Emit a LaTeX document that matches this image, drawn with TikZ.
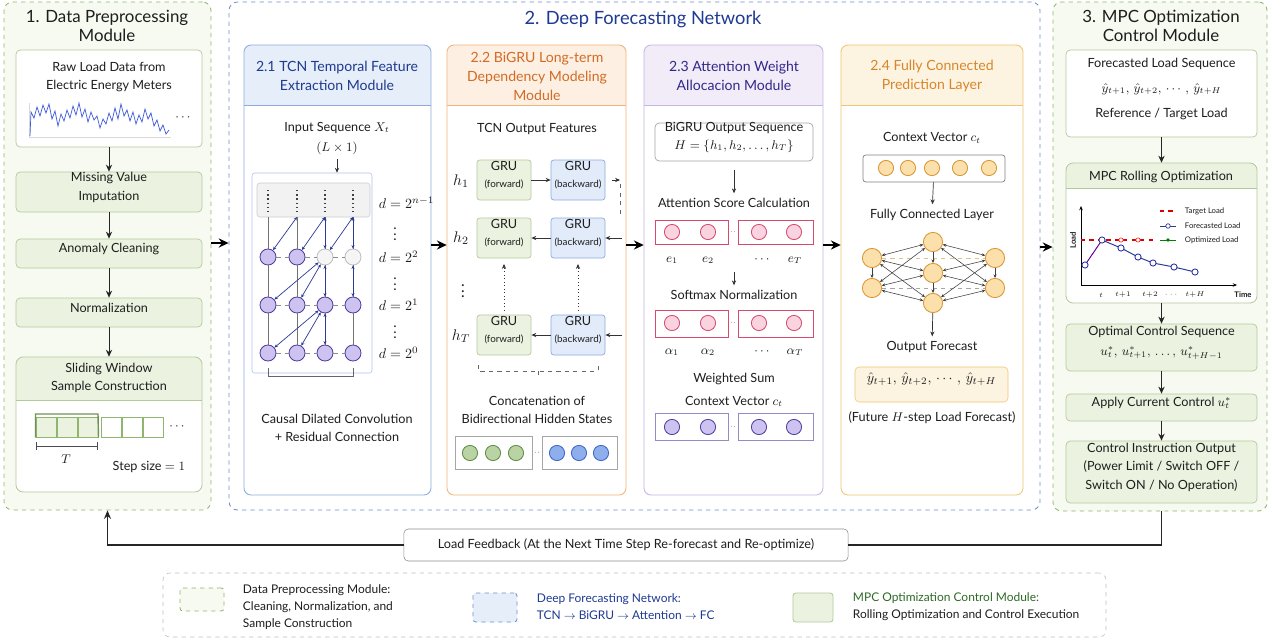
\documentclass[tikz,border=0pt]{standalone}
\usepackage{amsmath}
\usepackage{fontspec}
\setmainfont{Lato}
\usetikzlibrary{fit,arrows.meta}

\definecolor{txt}{HTML}{1E1E1E}
\definecolor{grnbg}{HTML}{F6FAF0}
\definecolor{grnfill}{HTML}{EBF3E0}
\definecolor{grnline}{HTML}{8FB56E}
\definecolor{grnbox}{HTML}{B3C99C}
\definecolor{winline}{HTML}{B3C99C}
\definecolor{winfill}{HTML}{EBF3E0}
\definecolor{dfnline}{HTML}{6F8FD0}
\definecolor{dfntext}{HTML}{1F3A93}
\definecolor{tcnline}{HTML}{8DAAE0}
\definecolor{tcnfill}{HTML}{E6EEF9}
\definecolor{tcntext}{HTML}{1F3A8F}
\definecolor{gruline}{HTML}{F2B47A}
\definecolor{grufill}{HTML}{FDEFE1}
\definecolor{grutext}{HTML}{D26B27}
\definecolor{attline}{HTML}{C6B5E2}
\definecolor{attfill}{HTML}{F1ECF8}
\definecolor{atttext}{HTML}{33288A}
\definecolor{fcline}{HTML}{F3C56F}
\definecolor{fcfill}{HTML}{FDF3E1}
\definecolor{fctext}{HTML}{D8862A}
\definecolor{navy}{HTML}{2C3A91}
\definecolor{sigblue}{HTML}{3D5BD9}
\definecolor{purpfill}{HTML}{CEC3F0}
\definecolor{purpline}{HTML}{4B3E9E}
\definecolor{pinkfill}{HTML}{F9D3DF}
\definecolor{pinkline}{HTML}{D9486F}
\definecolor{gdotfill}{HTML}{B9D3A3}
\definecolor{gdotline}{HTML}{5E8A48}
\definecolor{bdotfill}{HTML}{8EAFEB}
\definecolor{bdotline}{HTML}{3965C6}
\definecolor{odotfill}{HTML}{FBE0AC}
\definecolor{odotline}{HTML}{D99530}
\definecolor{bwdfill}{HTML}{E2EBFA}
\definecolor{mpctext}{HTML}{2D6A27}

\newcommand{\bodysize}{\fontsize{9}{13}\selectfont}
\newcommand{\headsize}{\fontsize{10}{13.5}\selectfont}
\newcommand{\titlesize}{\fontsize{12}{14}\selectfont}
\newcommand{\smallsize}{\fontsize{7}{8}\selectfont}
\newcommand{\tinysize}{\fontsize{5.5}{6.5}\selectfont}
\newcommand{\legsize}{\fontsize{8.5}{12}\selectfont}

% panel with a coloured header strip: name, x1, y1, x2, y2, header bottom, colour prefix
\newcommand{\headpanel}[7]{%
  \node[inner sep=0pt, fill=white, fit={(#2,#3)(#4,#5)}] (#1) {};
  \begin{scope}
    \clip[rounded corners=5pt] (#2,#3) rectangle (#4,#5);
    \fill[#7fill] (#2,#3) rectangle (#4,#6);
  \end{scope}
  \draw[#7line, line width=0.6pt] (#2,#6) -- (#4,#6);
  \draw[#7line, line width=0.6pt, rounded corners=5pt] (#2,#3) rectangle (#4,#5);
}

\begin{document}
\begin{tikzpicture}[
    x=0.025cm, y=-0.025cm,
    >={Stealth[length=5pt,width=4.5pt]},
    every node/.style={font=\bodysize, text=txt, align=center},
    module/.style={rounded corners=6pt, dashed, line width=0.6pt, inner sep=0pt},
    box/.style={draw=grnbox, fill=grnfill, rounded corners=3pt, inner sep=0pt, line width=0.5pt},
    whitebox/.style={box, fill=white},
    cell/.style={draw=#1, fill=white, inner sep=0pt, line width=0.5pt},
    dot/.style 2 args={circle, draw=#1, fill=#2, minimum size=0.38cm, inner sep=0pt, line width=0.6pt},
    tcndot/.style={dot={purpline}{purpfill}, minimum size=0.4cm},
    fadedot/.style={dot={black!25}{black!4}, minimum size=0.4cm},
    nndot/.style={dot={odotline}{odotfill}, minimum size=0.48cm},
    fwdbox/.style={box, rounded corners=2pt},
    bwdbox/.style={box, draw=tcnline, fill=bwdfill, rounded corners=2pt},
    flow/.style={->, line width=0.7pt, black!85},
    smallarrow/.style={-{Stealth[length=3.5pt,width=3pt]}, line width=0.5pt, black!80},
    bigarrow/.style={-{Stealth[length=7pt,width=6.5pt]}, line width=1.6pt, black},
    tcnarrow/.style={{Stealth[length=2.5pt,width=2.2pt]}-{Stealth[length=2.5pt,width=2.2pt]}, navy, line width=0.5pt},
    nnedge/.style={{Stealth[length=2.5pt,width=2.2pt]}-{Stealth[length=2.5pt,width=2.2pt]}, black!75, line width=0.4pt},
    nndown/.style={-{Stealth[length=2.5pt,width=2.2pt]}, black!75, line width=0.4pt},
    feedback/.style={line width=1pt, black!85}
]
\useasboundingbox (0,0) rectangle (1274,640);

% 1. Data preprocessing module
\node[module, draw=grnline, fill=grnbg, fit={(4,2)(211,510)}] (prep) {};
\node[font=\titlesize] (preptitle) at (107,26) {1. Data Preprocessing\\Module};

\node[whitebox, fit={(16,50)(202,147)}] (raw) {};
\node (rawtxt) at (109,77) {Raw Load Data from\\Electric Energy Meters};
\draw[black!15] (29,103) -- (29,137) -- (171,137);
\draw[sigblue, line width=0.5pt] plot coordinates {(30,136) (31,112) (34,118) (37,107) (40,116) (43,105)
  (46,113) (49,104) (52,119) (55,111) (58,126) (61,114) (64,121) (67,110) (70,118) (73,106) (76,115)
  (79,103) (82,117) (85,109) (88,122) (91,112) (94,120) (97,116) (100,128) (103,119) (106,124)
  (109,113) (112,121) (115,108) (118,119) (121,104) (124,116) (127,110) (130,121) (133,112) (136,124)
  (139,115) (142,122) (145,109) (148,119) (151,113) (154,126) (157,120) (160,131) (163,125) (166,134) (169,130)};
\node (rawdots) at (184,118) {$\cdots$};

\node[box, fit={(16,172)(202,212)}] (impute) {Missing Value\\Imputation};
\node[box, fit={(16,239)(202,268)}] (clean) {Anomaly Cleaning};
\node[box, fit={(16,298)(202,327)}] (norm) {Normalization};
\headpanel{window}{16}{357}{202}{492}{400}{win}
\node (wintitle) at (109,378) {Sliding Window\\Sample Construction};
\foreach \x [count=\i] in {36,57,78,101,122,143}
  \node[draw=grnline, fill=white, line width=0.7pt, minimum size=0.5cm, inner sep=0pt] (sq\i) at (\x+10,427) {};
\foreach \i in {1,2,3}
  \node[draw=grnline, fill=grnfill, line width=0.7pt, minimum size=0.5cm, inner sep=0pt] at (sq\i) {};
\draw[grnline!80!black, line width=1pt] (sq1.south west) |- (98,414) -- (sq3.south east);
\node (sqdots) at (178,427) {$\cdots$};
\draw[black!70, |-|, line width=0.5pt] (36,446) -- (98,446);
\node (tlbl) at (66,459) {$T$};
\node[anchor=east] (steplbl) at (190,467) {Step size $=1$};

\draw[flow] (raw) -- (impute);
\draw[flow] (impute) -- (clean);
\draw[flow] (clean) -- (norm);
\draw[flow] (norm) -- (window);

% 2. Deep forecasting network
\node[module, draw=dfnline, fill=white, fit={(229,2)(1040,510)}] (deepnet) {};
\node[font=\fontsize{13}{15}\selectfont, text=dfntext] (deeptitle) at (643,19) {2. Deep Forecasting Network};

% 2.1 TCN
\headpanel{tcn}{244}{45}{431}{495}{105}{tcn}
\node[font=\headsize, text=tcntext] (tcntitle) at (337,76) {2.1 TCN Temporal Feature\\Extraction Module};
\node (xin) at (337,128) {Input Sequence $X_t$};
\node (lx) at (337,148) {$(L\times 1)$};
\node[draw=tcnline!70, rounded corners=2pt, inner sep=0pt, fit={(252,173)(372,373)}] (grid) {};
\node[draw=black!20, fill=black!5, rounded corners=2pt, inner sep=0pt, fit={(257,183)(370,217)}] (deep) {};
\draw[smallarrow] (lx.south) -- (lx.south |- grid.north);
\foreach \c/\x in {1/268,2/297,3/325,4/353}{
  \coordinate (t\c) at (\x,217);
  \draw[dotted, line width=1pt, black!75] (\x,190) -- (\x,212);
  \foreach \r/\y in {0/353,1/305}
    \node[tcndot] (n\c\r) at (\x,\y) {};
}
\node[tcndot] (n12) at (268,257) {};
\node[tcndot] (n22) at (297,257) {};
\node[fadedot] (n32) at (325,257) {};
\node[fadedot] (n42) at (353,257) {};
\foreach \c in {1,...,4}
  \draw[black!55] (t\c) -- (n\c2) (n\c2) -- (n\c1) (n\c1) -- (n\c0);
\foreach \r in {0,1,2}
  \draw[black!45, dashed] (n1\r) -- (n2\r) (n2\r) -- (n3\r) (n3\r) -- (n4\r);
\draw[tcnarrow] (t2) -- (n12);
\draw[tcnarrow] (t3) -- (n22);
\draw[tcnarrow] (t4) -- (n32);
\draw[tcnarrow] (t3) -- (n32);
\draw[tcnarrow] (t4) -- (n42);
\draw[tcnarrow] (n32) -- (n11);
\draw[tcnarrow] (n32) -- (n21);
\draw[tcnarrow] (n32) -- (n31);
\draw[tcnarrow] (n42) -- (n41);
\draw[tcnarrow] (n31) -- (n10);
\draw[tcnarrow] (n31) -- (n20);
\draw[tcnarrow] (n31) -- (n30);
\draw[black!60] (268,368) -- (268,376) -- (353,376) -- (353,368);
\begin{scope}[every node/.append style={font=\fontsize{10}{12}\selectfont}]
\node[anchor=west] (dn) at (374,203) {$d=2^{n-1}$};
\node (vd1) at (395,230) {$\vdots$};
\node[anchor=west] (d2) at (374,257) {$d=2^{2}$};
\node (vd2) at (395,280) {$\vdots$};
\node[anchor=west] (d1) at (374,305) {$d=2^{1}$};
\node (vd3) at (395,328) {$\vdots$};
\node[anchor=west] (d0) at (374,353) {$d=2^{0}$};
\end{scope}
\node (tcncap) at (337,428) {Causal Dilated Convolution\\+ Residual Connection};

% 2.2 BiGRU
\headpanel{gru}{447}{45}{626}{495}{105}{gru}
\node[font=\headsize, text=grutext] (grutitle) at (537,76) {2.2 BiGRU Long-term\\Dependency Modeling\\Module};
\node (grufeat) at (537,129) {TCN Output Features};
\node[fwdbox, fit={(477,160)(531,200)}] (f1) {GRU\\[-1pt]{\smallsize (forward)}};
\node[bwdbox, fit={(551,160)(605,200)}] (b1) {GRU\\[-1pt]{\smallsize (backward)}};
\node[fwdbox, fit={(477,218)(531,258)}] (f2) {GRU\\[-1pt]{\smallsize (forward)}};
\node[bwdbox, fit={(551,218)(605,258)}] (b2) {GRU\\[-1pt]{\smallsize (backward)}};
\node[fwdbox, fit={(477,315)(531,355)}] (fT) {GRU\\[-1pt]{\smallsize (forward)}};
\node[bwdbox, fit={(551,315)(605,355)}] (bT) {GRU\\[-1pt]{\smallsize (backward)}};
\begin{scope}[every node/.append style={font=\fontsize{11}{13}\selectfont}]
\node (h1) at (461,181) {$h_1$};
\node (h2) at (461,238) {$h_2$};
\node (hv) at (463,287) {$\vdots$};
\node (hT) at (461,336) {$h_T$};
\end{scope}
\coordinate (o1) at (620,180);
\coordinate (o1b) at (620,214);
\coordinate (i2) at (622,238);
\coordinate (iT) at (622,335);
\draw[smallarrow] (f1) -- (b1);
\draw[smallarrow, shorten <=5pt] (b1) -- (o1);
\draw[dashed, black!60] ([yshift=-3pt]o1) -- (o1b);
\draw[smallarrow] (i2) -- (b2);
\draw[smallarrow] (b2) -- (f2);
\draw[smallarrow] (iT) -- (bT);
\draw[smallarrow] (bT) -- (fT);
\draw[dotted, line width=0.9pt, smallarrow, shorten <=3pt, shorten >=4pt] (fT) -- (f2);
\draw[dotted, line width=0.9pt, smallarrow, shorten <=3pt, shorten >=4pt] (bT) -- (b2);
\draw[dashed, black!60] (478,365) -- (478,371) -- (598,371) -- (598,365);
\draw[black!60] (538,371) -- (538,375);
\node (catlbl) at (537,410) {Concatenation of\\Bidirectional Hidden States};
\node[cell=black!35, fit={(455,436)(532,469)}] (catf) {};
\node[cell=black!35, fit={(542,436)(617,469)}] (catb) {};
\node[font=\tinysize] (catdots) at (537,453) {$\cdot\cdot$};
\foreach \x [count=\i] in {470,493,516}
  \node[dot={gdotline}{gdotfill}] (cg\i) at (\x,453) {};
\foreach \x [count=\i] in {557,579,601}
  \node[dot={bdotline}{bdotfill}] (cb\i) at (\x,453) {};

% 2.3 Attention
\headpanel{att}{644}{45}{823}{495}{105}{att}
\node[font=\headsize, text=atttext] (atttitle) at (734,76) {2.3 Attention Weight\\Allocacion Module};
\node[cell=black!35, rounded corners=3pt, fit={(655,123)(813,161)}] (hseq) {BiGRU Output Sequence\\$H=\{h_1,h_2,\ldots,h_T\}$};
\node (scorelbl) at (734,203) {Attention Score Calculation};
\coordinate (hs) at (734,170);
\draw[smallarrow] (hs) -- (scorelbl);
\node[cell=pinkline, fit={(655,220)(728,244)}] (sca) {};
\node[cell=pinkline, fit={(738,220)(813,244)}] (scb) {};
\node[font=\tinysize] (scdots) at (733,232) {$\cdot\cdot$};
\foreach \x [count=\i] in {672,708,759,794}
  \node[dot={pinkline}{pinkfill}] (e\i) at (\x,232) {};
\node (el1) at (672,260) {$e_1$};
\node (el2) at (708,260) {$e_2$};
\node (el3) at (763,260) {$\cdots$};
\node (el4) at (795,260) {$e_T$};
\coordinate (ea) at (734,272);
\node (smlbl) at (734,295) {Softmax Normalization};
\draw[smallarrow] (ea) -- (smlbl);
\node[cell=pinkline, fit={(655,310)(728,337)}] (sma) {};
\node[cell=pinkline, fit={(738,310)(813,337)}] (smb) {};
\node[font=\tinysize] (smdots) at (733,323) {$\cdot\cdot$};
\foreach \x [count=\i] in {672,708,759,794}
  \node[dot={pinkline}{pinkfill}] (a\i) at (\x,323) {};
\node (al1) at (672,352) {$\alpha_1$};
\node (al2) at (708,352) {$\alpha_2$};
\node (al3) at (763,352) {$\cdots$};
\node (al4) at (795,352) {$\alpha_T$};
\node (wslbl) at (734,390) {Weighted Sum\\[3pt]Context Vector $c_t$};
\node[cell=purpline!60, fit={(655,413)(728,440)}] (cva) {};
\node[cell=purpline!60, fit={(738,413)(813,440)}] (cvb) {};
\node[font=\tinysize] (cvdots) at (733,427) {$\cdot\cdot$};
\foreach \x [count=\i] in {672,708,759,794}
  \node[dot={purpline}{purpfill}] (c\i) at (\x,427) {};

% 2.4 Fully connected
\headpanel{fc}{841}{45}{1023}{495}{105}{fc}
\node[font=\headsize, text=fctext] (fctitle) at (932,76) {2.4 Fully Connected\\Prediction Layer};
\node (ctxlbl) at (932,138) {Context Vector $c_t$};
\node[cell=black!50, rounded corners=2pt, fit={(863,155)(1005,182)}] (ctxbox) {};
\foreach \x [count=\i] in {886,908,932,960,989}
  \node[dot={odotline}{odotfill}] (ctx\i) at (\x,168) {};
\node (fcllbl) at (932,215) {Fully Connected Layer};
\draw[smallarrow] (ctxbox) -- (fcllbl);
\node[nndot] (fcl1) at (872,258) {};
\node[nndot] (fcl2) at (872,288) {};
\node[nndot] (fcm1) at (933,242) {};
\node[nndot] (fcm2) at (933,273) {};
\node[nndot] (fcm3) at (933,303) {};
\node[nndot] (fcr1) at (995,258) {};
\node[nndot] (fcr2) at (995,288) {};
\draw[black!35, dashed, line width=0.4pt] (fcl2) -- (fcr2);
\draw[odotline!60, dashed, line width=0.4pt] (fcl1) -- (fcr1);
\foreach \a in {fcl1,fcl2}
  \foreach \b in {fcm1,fcm2,fcm3}
    \draw[nnedge] (\a) -- (\b);
\foreach \a in {fcm1,fcm2,fcm3}
  \foreach \b in {fcr1,fcr2}
    \draw[nnedge] (\a) -- (\b);
\draw[nndown] (fcl1) -- (fcl2);
\draw[nndown] (fcr1) -- (fcr2);
\draw[nndown] (fcm1) -- (fcm2);
\draw[nndown] (fcm2) -- (fcm3);
\node (outlbl) at (932,347) {Output Forecast};
\draw[smallarrow] (fcm3) -- (outlbl);
\node[draw=fcline, fill=fcfill, rounded corners=3pt, inner sep=0pt, fit={(855,367)(1008,402)},
  font=\fontsize{10}{12}\selectfont] (fcout) {$\hat{y}_{t+1},\,\hat{y}_{t+2},\,\cdots,\,\hat{y}_{t+H}$};
\node (futlbl) at (932,418) {(Future $H$-step Load Forecast)};

% 3. MPC optimization control module
\node[module, draw=grnline, fill=grnbg, fit={(1053,2)(1267,511)}] (mpc) {};
\node[font=\titlesize] (mpctitle) at (1161,26) {3. MPC Optimization\\Control Module};
\node[whitebox, fit={(1066,50)(1257,137)}] (fcseq) {Forecasted Load Sequence\\[5pt]$\hat{y}_{t+1},\,\hat{y}_{t+2},\,\cdots,\,\hat{y}_{t+H}$\\[5pt]Reference / Target Load};
\headpanel{rolling}{1066}{163}{1257}{303}{188}{win}
\node (rolltitle) at (1161,177) {MPC Rolling Optimization};
% rolling horizon chart
\draw[-{Stealth[length=3pt,width=2.5pt]}, line width=0.5pt] (1081,285) -- (1081,206);
\draw[-{Stealth[length=3pt,width=2.5pt]}, line width=0.5pt] (1081,285) -- (1237,285);
\node[font=\tinysize\bfseries, rotate=90] (loadax) at (1073,240) {Load};
\node[font=\tinysize\bfseries] (timeax) at (1243,295) {Time};
\draw[red!85!black, dashed, line width=0.8pt] (1081,240) -- (1153,240);
\draw[violet!80!blue, line width=0.7pt] (1085,265) -- (1102,240);
\draw[navy, line width=0.7pt] (1102,240) -- (1121,248) -- (1138,257) -- (1153,263) -- (1174,267) -- (1195,272);
\foreach \x in {1121,1138}
  \draw[red!80, fill=white, line width=0.5pt] (\x,240) circle (1.5pt);
\foreach \x/\y in {1085/265,1102/240,1121/248,1138/257,1153/263,1174/267,1195/272}
  \draw[navy!80!blue, fill=white, line width=0.6pt] (\x,\y) circle (2.2pt);
\begin{scope}[every node/.append style={font=\tinysize}]
\node (tk0) at (1101,295) {$t$};
\node (tk1) at (1123,295) {$t{+}1$};
\node (tk2) at (1150,295) {$t{+}2$};
\node (tk3) at (1172,295) {$\cdots$};
\node (tk4) at (1195,295) {$t{+}H$};
\draw[red!85!black, dashed, line width=0.8pt] (1160,211) -- (1176,211);
\node[anchor=west] (lg1) at (1180,211) {Target Load};
\draw[navy, line width=0.6pt] (1160,226) -- (1176,226);
\draw[navy, fill=white, line width=0.5pt] (1168,226) circle (1.6pt);
\node[anchor=west] (lg2) at (1180,226) {Forecasted Load};
\draw[green!50!black, line width=0.6pt] (1160,240) -- (1176,240);
\fill[green!50!black] (1168,240) circle (1.3pt);
\node[anchor=west] (lg3) at (1180,240) {Optimized Load};
\end{scope}
\node[box, fit={(1066,324)(1257,371)}] (optseq) {Optimal Control Sequence\\[1pt]$u_t^*,\,u_{t+1}^*,\,\ldots,\,u_{t+H-1}^*$};
\node[box, fit={(1066,394)(1257,421)}] (apply) {Apply Current Control $u_t^*$};
\node[box, fit={(1066,441)(1257,503)}] (ctrlout) {Control Instruction Output\\(Power Limit / Switch OFF /\\Switch ON / No Operation)};
\draw[flow] (fcseq) -- (rolling);
\draw[flow] (rolling) -- (optseq);
\draw[flow] (optseq) -- (apply);
\draw[flow] (apply) -- (ctrlout);

% module links
\draw[bigarrow] (prep.east |- 0,243) -- (deepnet.west |- 0,243);
\draw[bigarrow] (tcn.east |- 0,245) -- (gru.west |- 0,245);
\draw[bigarrow] (gru.east |- 0,245) -- (att.west |- 0,245);
\draw[bigarrow] (att.east |- 0,245) -- (fc.west |- 0,245);
\draw[bigarrow] (deepnet.east |- 0,247) -- (mpc.west |- 0,247);

% feedback loop
\node[draw=black!45, fill=white, rounded corners=3pt, minimum width=11.1cm, minimum height=0.8cm] (fb) at (626,545)
  {Load Feedback (At the Next Time Step Re-forecast and Re-optimize)};
\draw[feedback] (ctrlout.south |- mpc.south) |- (fb.east);
\draw[feedback, -{Stealth[length=6pt,width=5pt]}] (fb.west) -| (prep.south);

% legend
\node[draw=black!25, dashed, fill=white, rounded corners=5pt, inner sep=0pt, fit={(163,573)(1106,637)}] (legend) {};
\node[module, draw=grnline, fill=grnbg, rounded corners=2pt, fit={(180,588)(224,611)}] (leg1) {};
\node[anchor=west, align=left, font=\legsize] (leg1txt) at (238,607) {Data Preprocessing Module:\\Cleaning, Normalization, and\\Sample Construction};
\node[module, draw=dfnline, fill=tcnfill, rounded corners=2pt, fit={(473,593)(517,622)}] (leg2) {};
\node[anchor=west, align=left, font=\legsize, text=dfntext] (leg2txt) at (532,607) {Deep Forecasting Network:\\TCN $\rightarrow$ BiGRU $\rightarrow$ Attention $\rightarrow$ FC};
\node[draw=grnbox, fill=grnfill, rounded corners=2pt, inner sep=0pt, line width=0.6pt, fit={(793,593)(833,622)}] (leg3) {};
\node[anchor=west, align=left, font=\legsize] (leg3txt) at (848,607) {{\color{mpctext}MPC Optimization Control Module:}\\Rolling Optimization and Control Execution};

\end{tikzpicture}
\end{document}
